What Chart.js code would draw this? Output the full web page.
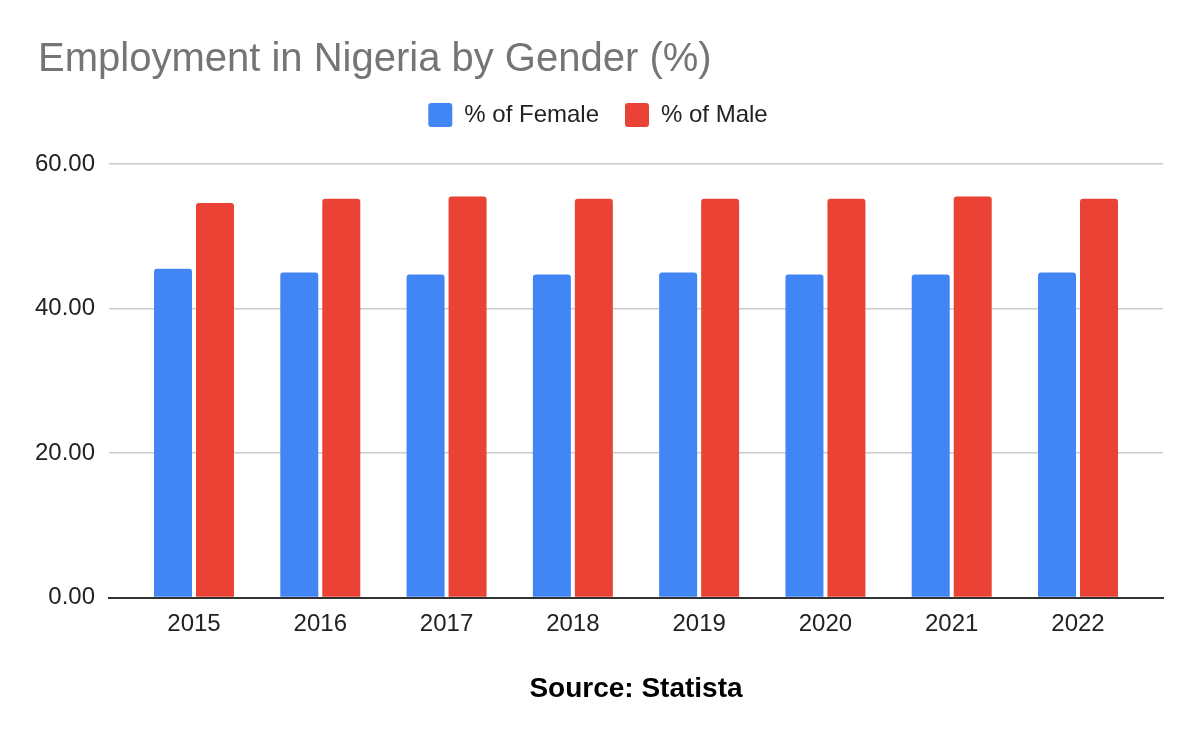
<!DOCTYPE html>
<html lang="en">
<head>
    <meta charset="UTF-8">
    <title>Employment in Nigeria by Gender (%)</title>
    <script src="https://cdn.jsdelivr.net/npm/chart.js"></script>
    <style>
        body {
            margin: 0;
            padding: 0;
            background-color: #fff;
        }
        .chart-box {
            width: 1200px;
            height: 742px;
        }
    </style>
</head>
<body>
    <div class="chart-box">
        <canvas id="genderChart"></canvas>
    </div>
    <script>
        // values
        const years = ['2015', '2016', '2017', '2018', '2019', '2020', '2021', '2022'];
        const femaleShare = [45.5, 45.0, 44.7, 44.7, 45.0, 44.7, 44.7, 45.0];
        const maleShare = [54.6, 55.2, 55.5, 55.2, 55.2, 55.2, 55.5, 55.2];
        const yTicks = [0, 20, 40, 60];

        const fontName = '"Liberation Sans", Arial, sans-serif';

        // the years sit on a linear x scale so there is some room between the
        // outer bars and the ends of the gridlines, like in the original
        const toPoints = arr => arr.map((v, i) => ({ x: i, y: v }));
        const sideRoom = 0.673;

        // push the plot down below the legend, nudge the title right a bit
        const layoutTweaks = {
            id: 'layoutTweaks',
            beforeInit(chart) {
                const fit = chart.legend.fit;
                chart.legend.fit = function() {
                    fit.bind(chart.legend)();
                    this.height += 27;
                };
            },
            afterLayout(chart) {
                chart.titleBlock.left += 5;
                chart.titleBlock.right += 5;
            }
        };

        const ctx = document.getElementById('genderChart').getContext('2d');
        const genderChart = new Chart(ctx, {
            type: 'bar',
            data: {
                datasets: [{
                    label: '% of Female',
                    data: toPoints(femaleShare),
                    backgroundColor: '#4285f4',
                    borderRadius: { topLeft: 3, topRight: 3 },
                    borderSkipped: 'bottom'
                }, {
                    label: '% of Male',
                    data: toPoints(maleShare),
                    backgroundColor: '#ea4335',
                    borderRadius: { topLeft: 3, topRight: 3 },
                    borderSkipped: 'bottom'
                }]
            },
            plugins: [layoutTweaks],
            options: {
                responsive: true,
                maintainAspectRatio: false,
                animation: false,
                categoryPercentage: 0.665,
                barPercentage: 0.905,
                layout: {
                    padding: { left: 33, right: 37, top: 0, bottom: 36 }
                },
                plugins: {
                    title: {
                        display: true,
                        text: 'Employment in Nigeria by Gender (%)',
                        align: 'start',
                        color: '#757575',
                        font: { family: fontName, size: 40, weight: 'normal' },
                        padding: { top: 36, bottom: -7 }
                    },
                    legend: {
                        display: true,
                        labels: {
                            color: '#222',
                            font: { family: fontName, size: 24 },
                            boxWidth: 24,
                            boxHeight: 24,
                            useBorderRadius: true,
                            borderRadius: 3,
                            padding: 26
                        }
                    },
                    tooltip: { enabled: false }
                },
                scales: {
                    x: {
                        type: 'linear',
                        offset: false,
                        min: -sideRoom,
                        max: years.length - 1 + sideRoom,
                        afterBuildTicks: function(scale) {
                            scale.ticks = years.map((y, i) => ({ value: i }));
                        },
                        grid: { display: false, drawTicks: false },
                        border: { color: '#333', width: 2 },
                        ticks: {
                            color: '#222',
                            font: { family: fontName, size: 24 },
                            padding: 12,
                            autoSkip: false,
                            maxRotation: 0,
                            callback: v => years[v]
                        },
                        title: {
                            display: true,
                            text: 'Source: Statista',
                            color: '#000',
                            font: { family: fontName, size: 28, weight: 'bold' },
                            padding: { top: 22, bottom: 0 }
                        }
                    },
                    y: {
                        min: 0,
                        max: 60,
                        afterFit: function(scale) { scale.width = 76; },
                        afterBuildTicks: function(scale) {
                            scale.ticks = yTicks.map(v => ({ value: v }));
                        },
                        grid: { color: '#cccccc', lineWidth: 1.5, drawTicks: false },
                        border: { display: false },
                        ticks: {
                            color: '#222',
                            font: { family: fontName, size: 24 },
                            padding: 14,
                            callback: v => Number(v).toFixed(2)
                        }
                    }
                }
            }
        });
    </script>
</body>
</html>
